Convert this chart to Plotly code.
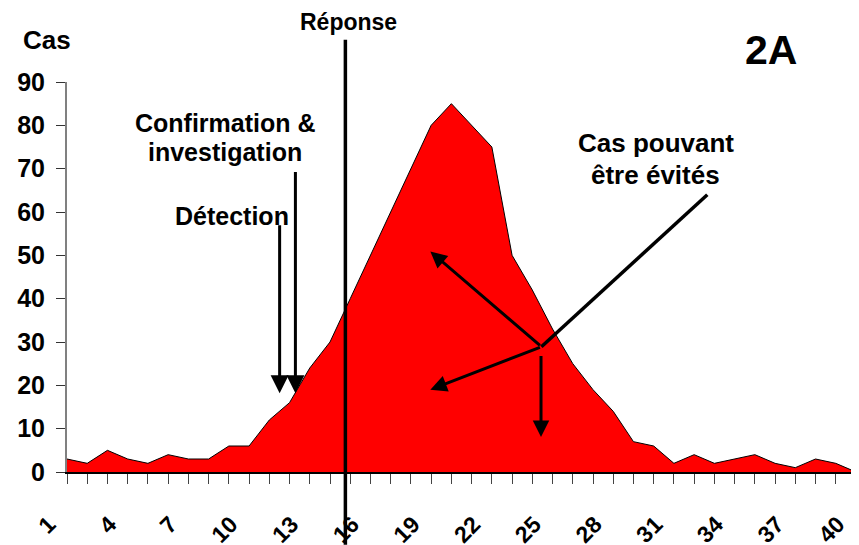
import plotly.graph_objects as go

# ---- data ----
days = list(range(1, 41))
cases = [3, 2, 5, 3, 2, 4, 3, 3, 6, 6,
         12, 16, 24, 30, 40, 50, 60, 70, 80, 85,
         80, 75, 50, 42, 33, 25, 19, 14, 7, 6,
         2, 4, 2, 3, 4, 2, 1, 3, 2, 0]
label_days = [1, 4, 7, 10, 13, 16, 19, 22, 25, 28, 31, 34, 37, 40]
y_ticks = [0, 10, 20, 30, 40, 50, 60, 70, 80, 90]

FONT = "Liberation Sans, Arial, Helvetica, sans-serif"
PAD = "\u00a0" * 4  # trailing non-breaking spaces push rotated labels down-left

fig = go.Figure()
fig.add_trace(go.Scatter(
    x=days, y=cases, mode="lines", fill="tozeroy",
    fillcolor="#FF0000", line=dict(color="black", width=1),
    hoverinfo="skip", showlegend=False))

# page has an 8px body margin, so the figure is sized 8px smaller
fig.update_layout(
    template="none",
    width=851, height=537,
    margin=dict(l=59, r=3, t=74, b=73, pad=0),
    paper_bgcolor="white", plot_bgcolor="white",
    showlegend=False,
    font=dict(family=FONT, color="black", size=24, weight="bold"),
)
fig.update_xaxes(
    range=[1, 40], tickmode="array", tickvals=days,
    ticktext=[(str(d) + PAD) if d in label_days else "" for d in days],
    tickangle=-45, ticks="outside", ticklen=10, tickwidth=1, tickcolor="#444444",
    showline=True, linecolor="black", linewidth=1.5,
    showgrid=False, zeroline=False, automargin=False,
    tickfont=dict(family=FONT, size=23, color="black", weight="bold"),
    ticklabelstandoff=0, ticklabeloverflow="allow",
)
fig.update_yaxes(
    range=[0, 90], tickmode="array", tickvals=y_ticks,
    ticks="outside", ticklen=9, tickwidth=1, tickcolor="#333333",
    showline=True, linecolor="#808080", linewidth=2,
    showgrid=False, zeroline=False, automargin=False,
    tickfont=dict(family=FONT, size=25, color="black", weight="bold"),
    ticklabelstandoff=6, ticklabeloverflow="allow",
)

def label(text, x, y, size, ref="data"):
    r = ("x", "y") if ref == "data" else ("paper", "paper")
    fig.add_annotation(text=text, x=x, y=y, xref=r[0], yref=r[1],
                       showarrow=False, xanchor="center", yanchor="middle",
                       font=dict(family=FONT, size=size, color="black", weight="bold"))

label("Cas", -0.0257, 1.107, 26, ref="paper")
label("Réponse", 0.3574, 1.1546, 23, ref="paper")
label("2A", 0.8923, 1.0828, 41, ref="paper")
label("Confirmation &", 8.85, 80.5, 25)
label("investigation", 8.83, 73.76, 25)
label("Détection", 9.15, 59.15, 25)
label("Cas pouvant", 30.1, 75.9, 26)
label("être évités", 30.1, 68.5, 26)

def arrow(x0, y0, x1, y1, head=2, size=1.0, width=3):
    fig.add_annotation(text="", x=x1, y=y1, ax=x0, ay=y0,
                       xref="x", yref="y", axref="x", ayref="y",
                       showarrow=True, arrowhead=head, arrowsize=size,
                       arrowwidth=width, arrowcolor="black", standoff=0)

# Détection & Confirmation arrows
arrow(11.51, 57.3, 11.51, 18.2, head=2, size=1.2, width=3)
arrow(12.29, 69.6, 12.29, 18.2, head=2, size=1.2, width=3)
# Avoidable-case arrows
arrow(24.45, 28.9, 18.96, 50.9, head=2, size=1.1, width=3)
arrow(24.45, 28.9, 18.96, 19.0, head=2, size=1.1, width=3)
arrow(24.43, 27.1, 24.43, 8.1, head=2, size=1.1, width=3)

# Line from label to junction
fig.add_shape(type="line", xref="x", yref="y",
              x0=32.65, y0=64.0, x1=24.45, y1=28.9,
              line=dict(color="black", width=3.5))
# Réponse vertical line
fig.add_shape(type="line", xref="x", yref="paper",
              x0=14.76, x1=14.76, y0=1.1085, y1=-0.1864,
              line=dict(color="black", width=3.5))

fig.write_html("out.html")
